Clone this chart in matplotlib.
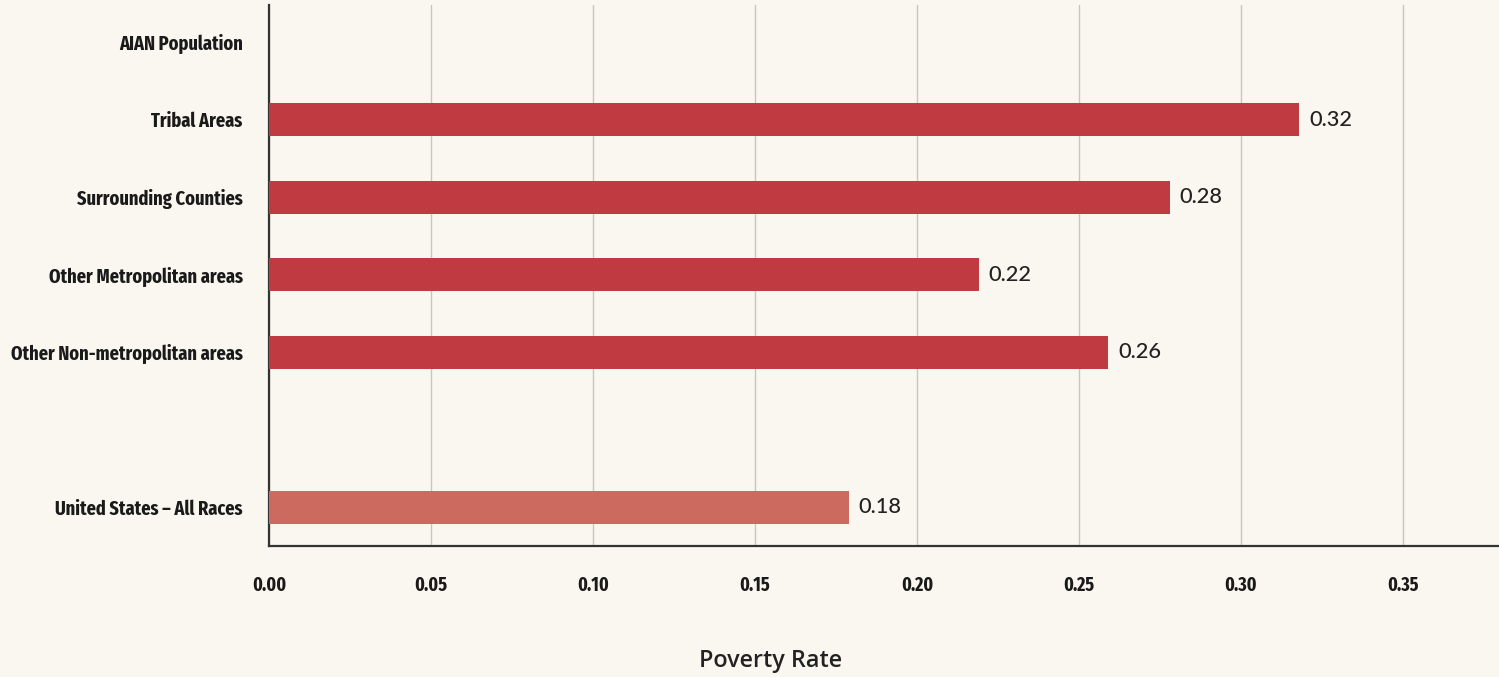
import matplotlib
matplotlib.use("Agg")
import matplotlib.pyplot as plt

categories = ["AIAN Population", "Tribal Areas", "Surrounding Counties",
              "Other Metropolitan areas", "Other Non-metropolitan areas", "",
              "United States \u2013 All Races"]
values = [None, 0.318, 0.278, 0.219, 0.259, None, 0.179]
value_labels = ["", "0.32", "0.28", "0.22", "0.26", "", "0.18"]
xticks = [0.00, 0.05, 0.10, 0.15, 0.20, 0.25, 0.30, 0.35]
xtick_labels = ["0.00", "0.05", "0.10", "0.15", "0.20", "0.25", "0.30", "0.35"]

COND = ["Fira Sans Extra Condensed", "PT Sans Narrow", "DejaVu Sans"]
VALF = ["Lato", "DejaVu Sans"]
XLF = ["Open Sans", "DejaVu Sans"]

bg = "#FAF6F0"
main_c = "#C03A42"
us_c = "#CC6A60"

fig = plt.figure(figsize=(14.99, 6.77), dpi=100, facecolor=bg)
renderer = fig.canvas.get_renderer()


def fit_size(s, family, weight, target_px, base=20):
    t = fig.text(0, 0, s, family=family, fontweight=weight, fontsize=base)
    w = t.get_window_extent(renderer).width
    t.remove()
    return base * target_px / w


ylab_fs = fit_size("Other Non-metropolitan areas", COND, "bold", 232)
xtick_fs = fit_size("0.00", COND, "bold", 34)
val_fs = fit_size("0.32", VALF, "medium", 43)
xl_fs = fit_size("Poverty Rate", XLF, "semibold", 143)

ax = fig.add_axes([269/1499, 131/677, 1 - 269/1499, (546-5)/677])
ax.set_facecolor(bg)

for i, (v, lab) in enumerate(zip(values, value_labels)):
    if v is None:
        continue
    c = us_c if i == len(values) - 1 else main_c
    ax.barh(i, v, height=0.43, color=c, zorder=3)
    ax.text(v + 0.003, i, lab, va="center", ha="left", fontsize=val_fs,
            family=VALF, fontweight="medium", color="#222222", zorder=4)

ax.set_ylim(6.5, -0.48)
ax.set_xlim(0, (1499-269)/3240)
ax.set_yticks(range(len(categories)))
ax.set_yticklabels(categories, family=COND, fontweight="bold", fontsize=ylab_fs,
                   color="#1a1a1a")
ax.set_xticks(xticks)
ax.set_xticklabels(xtick_labels, family=COND, fontweight="bold", fontsize=xtick_fs,
                   color="#1a1a1a")
ax.tick_params(axis="y", length=0, pad=19)
ax.tick_params(axis="x", length=0, pad=21)
ax.grid(axis="x", color="#C9C5C0", linewidth=1, zorder=0)
for s in ["top", "right"]:
    ax.spines[s].set_visible(False)
for s in ["left", "bottom"]:
    ax.spines[s].set_color("#333333")
    ax.spines[s].set_linewidth(1.6)

fig.text(771/1499, 1 - 661/677, "Poverty Rate", ha="center", va="center",
         family=XLF, fontweight="semibold", fontsize=xl_fs, color="#222222")

fig.savefig("out.png", dpi=100, facecolor=bg)
